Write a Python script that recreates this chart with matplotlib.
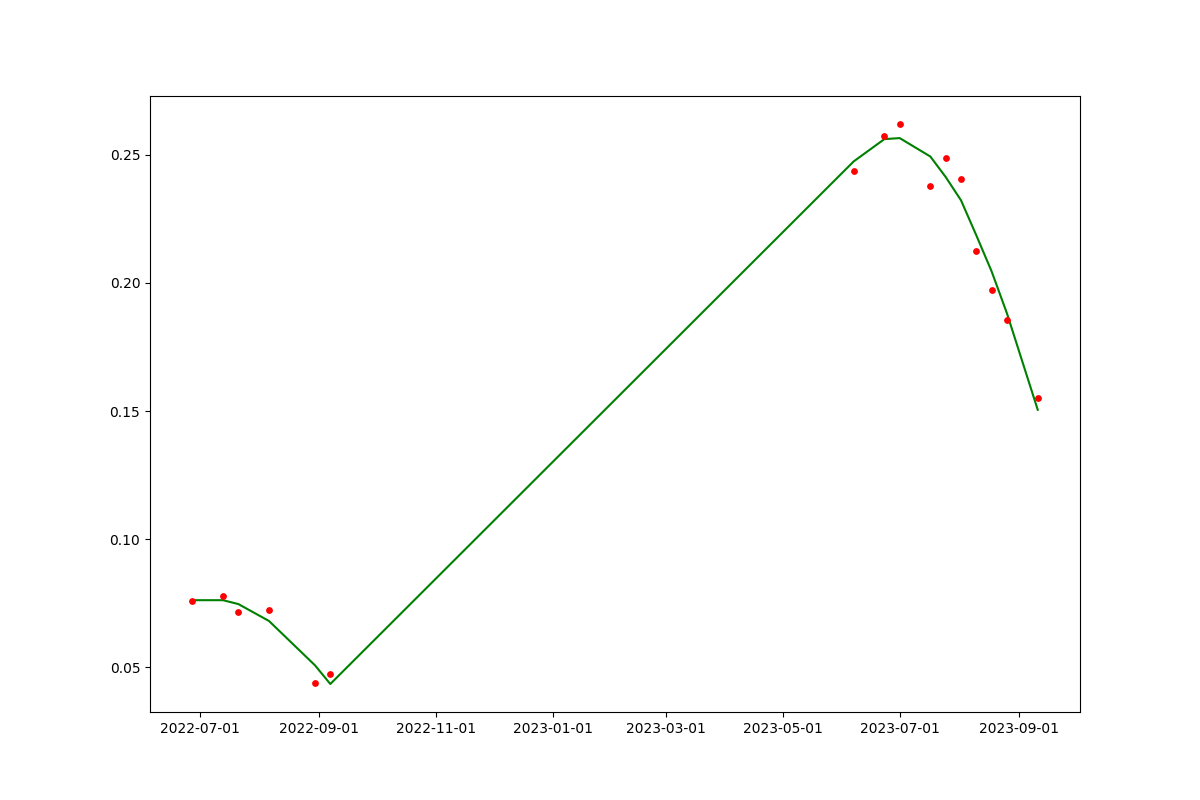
import numpy as np
import pandas as pd
import matplotlib
matplotlib.use("Agg")
import matplotlib.pyplot as plt

# observation dates
dates = pd.to_datetime([
    "2022-06-27", "2022-07-13", "2022-07-21", "2022-08-06",
    "2022-08-30", "2022-09-07",
    "2023-06-07", "2023-06-23", "2023-07-01", "2023-07-17",
    "2023-07-25", "2023-08-02", "2023-08-10", "2023-08-18",
    "2023-08-26", "2023-09-11",
])

# raw values (red dots)
raw = [0.0757, 0.0780, 0.0714, 0.0722, 0.0440, 0.0475,
       0.2436, 0.2574, 0.2620, 0.2378, 0.2487, 0.2405,
       0.2124, 0.1972, 0.1854, 0.1550]

# smoothed values (green line)
smooth = [0.0762, 0.0762, 0.0747, 0.0681, 0.0508, 0.0435,
          0.2474, 0.2561, 0.2565, 0.2493, 0.2413, 0.2322,
          0.2185, 0.2044, 0.1880, 0.1505]

fig, ax = plt.subplots(figsize=(12, 8), dpi=100)
ax.plot(dates, smooth, color="green")
ax.scatter(dates, raw, color="red", s=15, zorder=3)

ax.set_xticks(pd.to_datetime(["2022-07-01", "2022-09-01", "2022-11-01",
                              "2023-01-01", "2023-03-01", "2023-05-01",
                              "2023-07-01", "2023-09-01"]))
ax.xaxis.set_major_formatter(matplotlib.dates.DateFormatter("%Y-%m-%d"))

plt.savefig("out.png")
